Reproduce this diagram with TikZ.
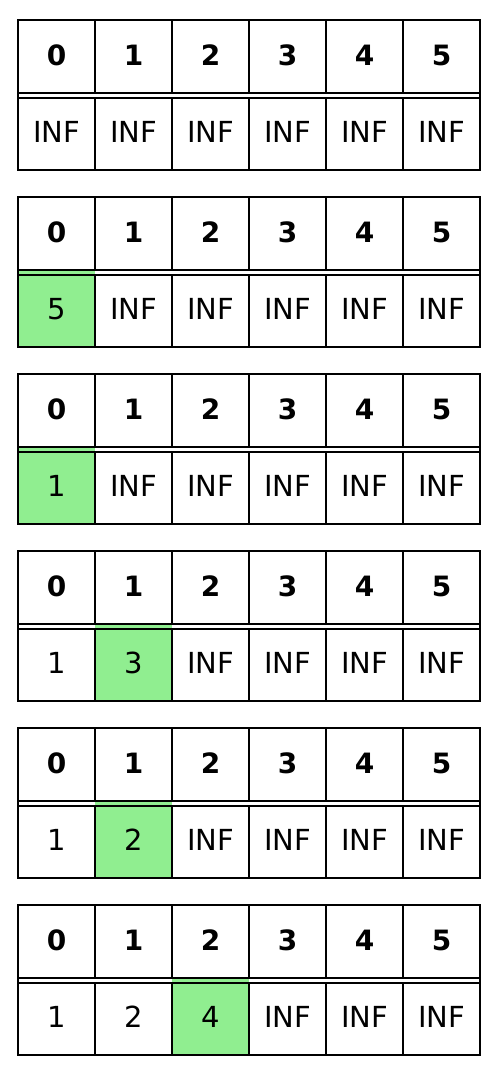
\documentclass[tikz,border=0pt]{standalone}
\usepackage{fontspec}
\setmainfont{DejaVu Sans}
\definecolor{hitgreen}{HTML}{90EE90}
\tikzset{
  rule/.style={line width=2pt},
  hit/.style={fill=hitgreen},
  hdr/.style={font=\bfseries\fontsize{28}{32}\selectfont},
  val/.style={font=\fontsize{29}{34}\selectfont}
}
\begin{document}
\begin{tikzpicture}[x=1pt,y=-1pt]
\useasboundingbox (0,0) rectangle (502,1084);

% row 1
\begin{scope}[shift={(0,0)}]
\draw[rule] (18,20) rectangle (480,170);
\draw[rule] (18,93) -- (480,93) (18,98) -- (480,98);
\foreach \x in {95,172,249,326,403}
  \draw[rule] (\x,20) -- (\x,93) (\x,98) -- (\x,170);
\foreach \c in {0,...,5}
  \node[hdr] (ha\c) at (56.5+77*\c,55.5) {\c};
\foreach \v [count=\c from 0] in {INF,INF,INF,INF,INF,INF}
  \node[val] (va\c) at (56.5+77*\c,132) {\v};
\end{scope}

% row 2
\begin{scope}[shift={(0,177)}]
\fill[hit] (18,94) rectangle (95,170);
\draw[rule] (18,20) rectangle (480,170);
\draw[rule] (18,93) -- (480,93) (18,98) -- (480,98);
\foreach \x in {95,172,249,326,403}
  \draw[rule] (\x,20) -- (\x,93) (\x,98) -- (\x,170);
\foreach \c in {0,...,5}
  \node[hdr] (hb\c) at (56.5+77*\c,55.5) {\c};
\foreach \v [count=\c from 0] in {5,INF,INF,INF,INF,INF}
  \node[val] (vb\c) at (56.5+77*\c,132) {\v};
\end{scope}

% row 3
\begin{scope}[shift={(0,354)}]
\fill[hit] (18,94) rectangle (95,170);
\draw[rule] (18,20) rectangle (480,170);
\draw[rule] (18,93) -- (480,93) (18,98) -- (480,98);
\foreach \x in {95,172,249,326,403}
  \draw[rule] (\x,20) -- (\x,93) (\x,98) -- (\x,170);
\foreach \c in {0,...,5}
  \node[hdr] (hc\c) at (56.5+77*\c,55.5) {\c};
\foreach \v [count=\c from 0] in {1,INF,INF,INF,INF,INF}
  \node[val] (vc\c) at (56.5+77*\c,132) {\v};
\end{scope}

% row 4
\begin{scope}[shift={(0,531)}]
\fill[hit] (95,94) rectangle (172,170);
\draw[rule] (18,20) rectangle (480,170);
\draw[rule] (18,93) -- (480,93) (18,98) -- (480,98);
\foreach \x in {95,172,249,326,403}
  \draw[rule] (\x,20) -- (\x,93) (\x,98) -- (\x,170);
\foreach \c in {0,...,5}
  \node[hdr] (hd\c) at (56.5+77*\c,55.5) {\c};
\foreach \v [count=\c from 0] in {1,3,INF,INF,INF,INF}
  \node[val] (vd\c) at (56.5+77*\c,132) {\v};
\end{scope}

% row 5
\begin{scope}[shift={(0,708)}]
\fill[hit] (95,94) rectangle (172,170);
\draw[rule] (18,20) rectangle (480,170);
\draw[rule] (18,93) -- (480,93) (18,98) -- (480,98);
\foreach \x in {95,172,249,326,403}
  \draw[rule] (\x,20) -- (\x,93) (\x,98) -- (\x,170);
\foreach \c in {0,...,5}
  \node[hdr] (he\c) at (56.5+77*\c,55.5) {\c};
\foreach \v [count=\c from 0] in {1,2,INF,INF,INF,INF}
  \node[val] (ve\c) at (56.5+77*\c,132) {\v};
\end{scope}

% row 6
\begin{scope}[shift={(0,885)}]
\fill[hit] (172,94) rectangle (249,170);
\draw[rule] (18,20) rectangle (480,170);
\draw[rule] (18,93) -- (480,93) (18,98) -- (480,98);
\foreach \x in {95,172,249,326,403}
  \draw[rule] (\x,20) -- (\x,93) (\x,98) -- (\x,170);
\foreach \c in {0,...,5}
  \node[hdr] (hf\c) at (56.5+77*\c,55.5) {\c};
\foreach \v [count=\c from 0] in {1,2,4,INF,INF,INF}
  \node[val] (vf\c) at (56.5+77*\c,132) {\v};
\end{scope}
\end{tikzpicture}
\end{document}
